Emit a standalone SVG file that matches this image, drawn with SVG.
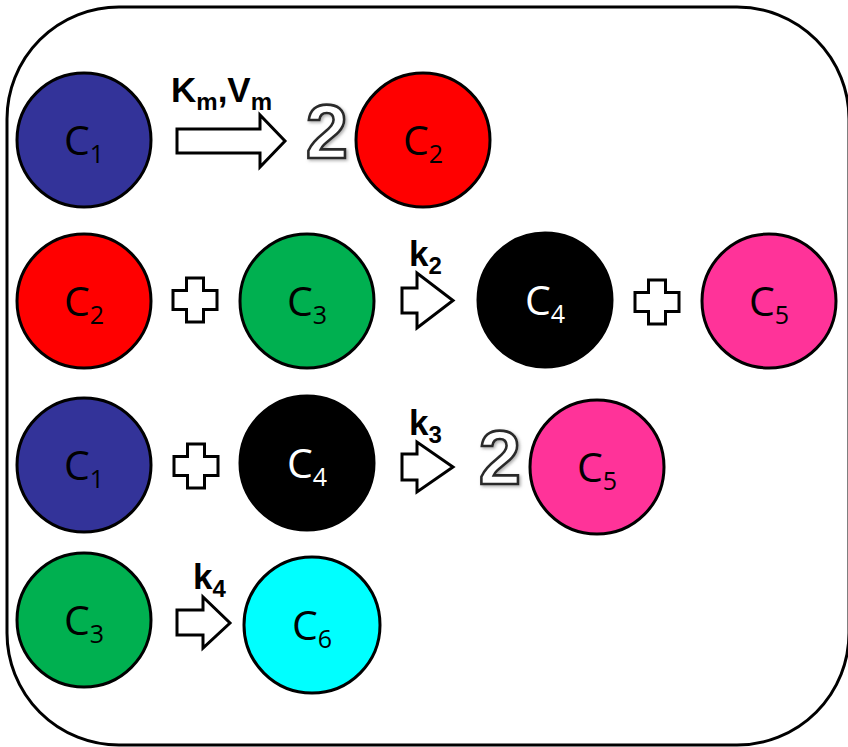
<svg xmlns="http://www.w3.org/2000/svg" width="848" height="747" viewBox="0 0 848 747">
  <defs>
    <style>
      .frame { fill: #ffffff; stroke: #000000; stroke-width: 3; }
      .node { stroke: #000000; stroke-width: 3; }
      .lbl { font-family: "Open Sans", "DejaVu Sans", sans-serif; font-size: 41px; text-anchor: middle; fill: #000000; }
      .lbl.light { fill: #ffffff; }
      .sub { font-size: 25px; }
      .rate { font-family: "Liberation Sans", Arial, sans-serif; font-weight: bold; font-size: 35px; fill: #000000; }
      .rsub { font-size: 24px; }
      .shape { fill: #ffffff; stroke: #000000; stroke-width: 3; stroke-linejoin: miter; }
      .coef { font-family: "Liberation Sans", Arial, sans-serif; font-weight: bold; font-size: 76px; fill: #ffffff; stroke: #2a2a2a; stroke-width: 2.6; text-anchor: middle; }
    </style>
    <!-- plus sign centred on the origin -->
    <path id="plus" class="shape" d="M -8.5,-22 H 8.5 V -9.5 H 22 V 9.5 H 8.5 V 22 H -8.5 V 9.5 H -22 V -9.5 H -8.5 Z"/>
    <!-- faint grey halo under the stoichiometric coefficients -->
    <filter id="halo" x="-30%" y="-30%" width="160%" height="160%">
      <feDropShadow dx="1.5" dy="1.5" stdDeviation="1.5" flood-color="#888888" flood-opacity="0.7"/>
    </filter>
  </defs>

  <!-- enclosing frame -->
  <rect class="frame" x="7" y="7" width="842" height="738" rx="112" ry="112"/>

  <!-- reaction arrows, plus signs, rate constants and coefficients -->
  <g id="connectors">
    <!-- row 1: C1 -> 2 C2 -->
    <polygon class="shape" points="177,129 260,129 260,115 285,141 260,167 260,153 177,153"/>
    <text class="rate" x="171" y="102">K<tspan class="rsub" dy="8">m</tspan><tspan dy="-8">,V</tspan><tspan class="rsub" dy="8">m</tspan></text>
    <text class="coef" x="327" y="158" filter="url(#halo)">2</text>

    <!-- row 2: C2 + C3 -> C4 + C5 -->
    <use href="#plus" x="195" y="300"/>
    <polygon class="shape" points="402,288 417,288 417,273 453,300.5 417,328 417,313 402,313"/>
    <text class="rate" x="409" y="266">k<tspan class="rsub" dy="8">2</tspan></text>
    <use href="#plus" x="657" y="302"/>

    <!-- row 3: C1 + C4 -> 2 C5 -->
    <use href="#plus" x="196" y="466"/>
    <polygon class="shape" points="402,454 417,454 417,442 453,467 417,492 417,480 402,480"/>
    <text class="rate" x="409" y="435">k<tspan class="rsub" dy="8">3</tspan></text>
    <text class="coef" x="500" y="484" filter="url(#halo)">2</text>

    <!-- row 4: C3 -> C6 -->
    <polygon class="shape" points="177,610 203,610 203,597 230,623 203,648 203,635 177,635"/>
    <text class="rate" x="193" y="589">k<tspan class="rsub" dy="8">4</tspan></text>
  </g>

  <!-- row 1 -->
  <g id="r1-c1">
    <circle class="node" cx="84" cy="140" r="67" fill="#333399"/>
    <text class="lbl" x="84" y="155">C<tspan class="sub" dy="8">1</tspan></text>
  </g>
  <g id="r1-c2">
    <circle class="node" cx="423" cy="140" r="67" fill="#ff0000"/>
    <text class="lbl" x="423" y="155">C<tspan class="sub" dy="8">2</tspan></text>
  </g>

  <!-- row 2 -->
  <g id="r2-c2">
    <circle class="node" cx="84" cy="301" r="67" fill="#ff0000"/>
    <text class="lbl" x="84" y="316">C<tspan class="sub" dy="8">2</tspan></text>
  </g>
  <g id="r2-c3">
    <circle class="node" cx="307" cy="301" r="67" fill="#00b050"/>
    <text class="lbl" x="307" y="316">C<tspan class="sub" dy="8">3</tspan></text>
  </g>
  <g id="r2-c4">
    <circle class="node" cx="545" cy="300" r="67" fill="#000000"/>
    <text class="lbl light" x="545" y="315">C<tspan class="sub" dy="8">4</tspan></text>
  </g>
  <g id="r2-c5">
    <circle class="node" cx="769" cy="301" r="67" fill="#ff3399"/>
    <text class="lbl" x="769" y="316">C<tspan class="sub" dy="8">5</tspan></text>
  </g>

  <!-- row 3 -->
  <g id="r3-c1">
    <circle class="node" cx="84" cy="465" r="67" fill="#333399"/>
    <text class="lbl" x="84" y="480">C<tspan class="sub" dy="8">1</tspan></text>
  </g>
  <g id="r3-c4">
    <circle class="node" cx="307" cy="463" r="67" fill="#000000"/>
    <text class="lbl light" x="307" y="478">C<tspan class="sub" dy="8">4</tspan></text>
  </g>
  <g id="r3-c5">
    <circle class="node" cx="597" cy="467" r="67" fill="#ff3399"/>
    <text class="lbl" x="597" y="482">C<tspan class="sub" dy="8">5</tspan></text>
  </g>

  <!-- row 4 -->
  <g id="r4-c3">
    <circle class="node" cx="84" cy="620" r="67" fill="#00b050"/>
    <text class="lbl" x="84" y="635">C<tspan class="sub" dy="8">3</tspan></text>
  </g>
  <g id="r4-c6">
    <circle class="node" cx="312" cy="625" r="68" fill="#00ffff"/>
    <text class="lbl" x="312" y="640">C<tspan class="sub" dy="8">6</tspan></text>
  </g>
</svg>
